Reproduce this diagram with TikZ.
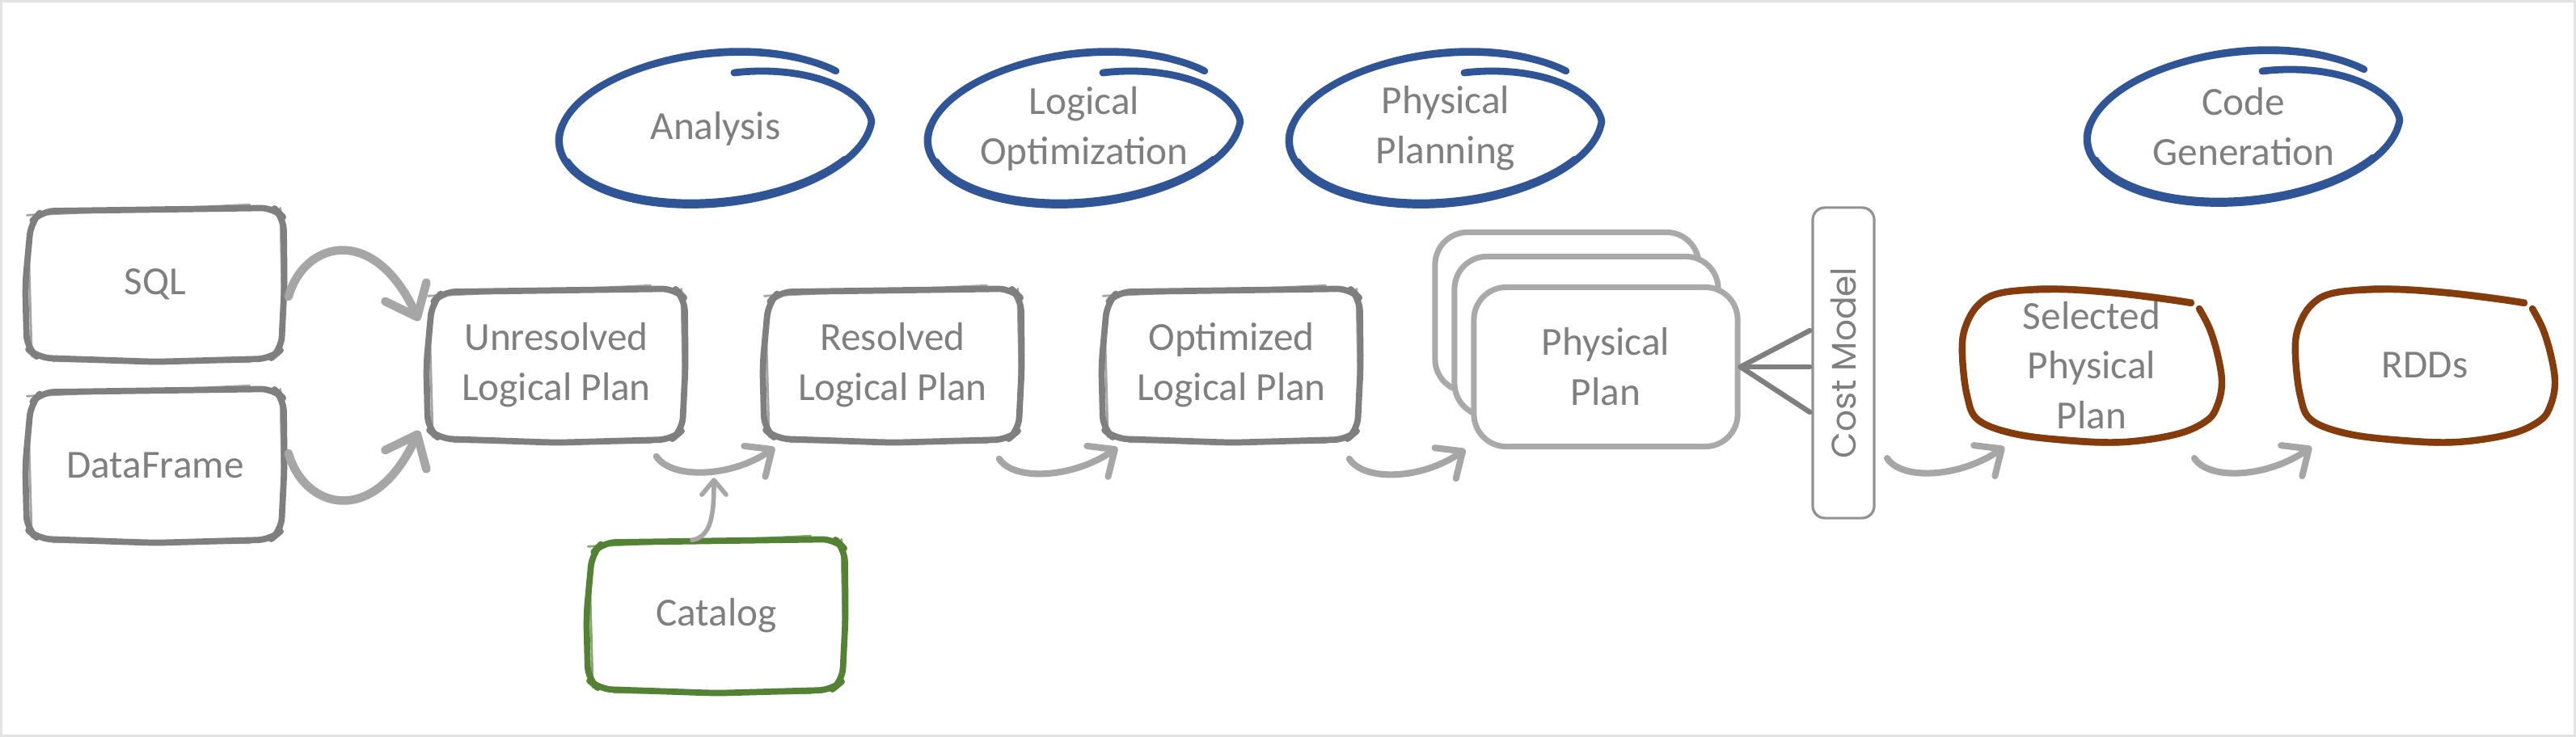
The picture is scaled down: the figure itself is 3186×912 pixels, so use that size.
\documentclass[tikz,border=0pt]{standalone}
\usepackage{fontspec}
\setmainfont{Carlito}
\newfontfamily\costfont{Poppins}
\usetikzlibrary{calc,arrows.meta}
\definecolor{txtgray}{HTML}{7F7F7F}
\definecolor{boxgray}{HTML}{7F7F7F}
\definecolor{arrgray}{HTML}{A6A6A6}
\definecolor{stackgray}{HTML}{A9A9A9}
\definecolor{blu}{HTML}{2F5597}
\definecolor{grn}{HTML}{548235}
\definecolor{brn}{HTML}{843C0C}
\definecolor{framegray}{HTML}{E3E3E3}

\newcommand{\sketchbox}[2]{%
 \draw[#2, line width=2.2pt, line join=round, line cap=round, rounded corners=0.16cm]
   ($(#1.north west)+(16,2)$) -- ($(#1.north east)+(-10,-2)$) -- ($(#1.north east)+(2,10)$) -- ($(#1.east)+(3,0)$) -- ($(#1.south east)+(-1,-12)$) -- ($(#1.south east)+(-14,-1)$) -- ($(#1.south)+(0,3)$) -- ($(#1.south west)+(12,-2)$) -- ($(#1.south west)+(-2,-14)$) -- ($(#1.west)+(-4,0)$) -- ($(#1.north west)+(3,16)$) -- cycle;
 \draw[#2, line width=0.8pt, opacity=0.7, line cap=round]
   ($(#1.north west)+(-2,7)$) -- ($(#1.north east)+(-40,-6)$)
   ($(#1.north east)+(-2,-2)$) -- ($(#1.south east)+(1,-40)$)
   ($(#1.south east)+(-40,3)$) -- ($(#1.south west)+(30,2)$)
   ($(#1.south west)+(4,-4)$) -- ($(#1.north west)+(0,40)$);
}
\newcommand{\blobshape}[2]{%
 \begin{scope}[shift={(#1.center)}]
 \draw[#2, line width=2.4pt, line cap=round, line join=round] plot[smooth, tension=0.6] coordinates {(133,-70) (146,-45) (156,-12) (161,21) (156,48) (143,68) (106,85) (40,95) (-27,93) (-94,85) (-140,68) (-154,38) (-160,-12) (-157,-45) (-140,-75) (-110,-90) (-44,-94) (23,-90) (90,-82) (123,-77)};
 \draw[#2, line width=0.8pt, opacity=0.7, line cap=round] plot[smooth, tension=0.6] coordinates {(137,-62) (152,-30) (160,10) (158,45) (140,72) (100,89) (30,98) (-40,95) (-110,84) (-146,62) (-158,25) (-163,-20)};
 \draw[#2, line width=0.8pt, opacity=0.7, line cap=round] plot[smooth, tension=0.6] coordinates {(-150,-60) (-128,-86) (-70,-97) (0,-95) (70,-88) (125,-80)};
 \end{scope}}
\tikzset{declare function={sp(\t)=1-0.27*max(0,\t)/84;}}
\newcommand{\spiral}[1]{%
 \begin{scope}[shift={(#1.center)}]
 \draw[blu, line width=2.5pt, line cap=round] plot[smooth, domain=84:-317, samples=110, variable=\t] ({193*sp(\t)*cos(\t) + 0.12*94*sp(\t)*sin(\t)}, {-94*sp(\t)*sin(\t) - 0.05*193*sp(\t)*cos(\t)});
 \draw[blu, line width=1.6pt, line cap=round] plot[smooth, domain=-30:-160, samples=40, variable=\t] ({190*cos(\t) + 0.12*90*sin(\t)}, {-90*sin(\t) - 0.05*190*cos(\t)});
 \draw[blu, line width=1.3pt, line cap=round] plot[smooth, domain=150:60, samples=30, variable=\t] ({190*cos(\t) + 0.12*97*sin(\t)}, {-97*sin(\t) - 0.05*190*cos(\t)});
 \draw[blu, line width=0.7pt, opacity=0.8] plot[smooth, domain=170:250, samples=30, variable=\t] ({197*cos(\t) + 0.12*92*sin(\t)}, {-92*sin(\t) - 0.05*197*cos(\t)});
 \end{scope}}

\tikzset{
 lbl/.style={text=txtgray, font=\fontsize{14}{17.6}\selectfont, align=center, inner sep=0pt},
 gbox/.style={lbl, minimum width=3.12cm, minimum height=1.84cm},
 stackbox/.style={lbl, draw=stackgray, fill=white, line width=2pt, rounded corners=0.4cm, minimum width=3.26cm, minimum height=1.97cm},
 costbox/.style={draw=boxgray!85, line width=0.9pt, rounded corners=0.15cm, minimum width=3.84cm, minimum height=0.76cm, inner sep=0pt, text=txtgray, font=\costfont\fontsize{12}{14}\selectfont},
 bigarr/.style={arrgray, line width=3pt, line cap=round, -{Straight Barb[round, length=0.34cm, width=0.56cm]}},
 smallarr/.style={arrgray, line width=2.3pt, line cap=round, -{Straight Barb[round, length=0.26cm, width=0.46cm]}},
 catarr/.style={arrgray, line width=1.6pt, line cap=round, -{Straight Barb[round, length=0.18cm, width=0.3cm]}},
 tiel/.style={boxgray, line width=1.8pt, line cap=round},
}

\begin{document}
\begin{tikzpicture}[x=0.01cm, y=-0.01cm]
\useasboundingbox (0,0) rectangle (3186,912);
\fill[white] (0,0) rectangle (3186,912);
\draw[framegray, line width=0.9pt] (1.5,1.5) rectangle (3184.5,910.5);

% stage ellipses
\node[lbl] (ana) at (885,159) {Analysis};
\node[lbl] (lopt) at (1341,159) {Logical\\Optimization};
\node[lbl] (pplan) at (1788,159) {Physical\\Planning};
\node[lbl] (cgen) at (2775,157) {Code\\Generation};
\spiral{ana}
\spiral{lopt}
\spiral{pplan}
\spiral{cgen}

% boxes
\node[gbox] (sql) at (192,352) {SQL};
\node[gbox] (df) at (192,576) {DataFrame};
\node[gbox] (unres) at (688,452) {Unresolved\\Logical Plan};
\node[gbox] (res) at (1104,452) {Resolved\\Logical Plan};
\node[gbox] (opt) at (1523,452) {Optimized\\Logical Plan};
\node[gbox] (cat) at (886,762) {Catalog};
\sketchbox{sql}{boxgray}
\sketchbox{df}{boxgray}
\sketchbox{unres}{boxgray}
\sketchbox{res}{boxgray}
\sketchbox{opt}{boxgray}
\sketchbox{cat}{grn}

% physical plans
\node[stackbox] (phys3) at (1938,386) {};
\node[stackbox] (phys2) at (1962,416) {};
\node[stackbox] (phys) at (1986,454) {Physical\\Plan};

% cost model
\node[costbox, rotate=90] (cost) at (2280,449) {Cost Model};
\draw[tiel] (phys.east) -- ($(cost.north)+(-2,-40)$);
\draw[tiel] (phys.east) -- ($(cost.north)+(-2,5)$);
\draw[tiel] (phys.east) -- ($(cost.north)+(-2,61)$);

% selected & RDDs
\node[gbox] (sel) at (2587,452) {Selected\\Physical\\Plan};
\node[gbox] (rdd) at (2999,452) {RDDs};
\blobshape{sel}{brn}
\blobshape{rdd}{brn}

% arrows
\draw[bigarr] ($(sql.east)+(8,15)$) .. controls +(20,-70) and +(-55,-120) .. ($(unres.west)+(-13,-55)$);
\draw[bigarr] ($(df.east)+(8,-15)$) .. controls +(20,70) and +(-55,120) .. ($(unres.west)+(-13,81)$);
\draw[smallarr] ($(unres.south east)+(-33,20)$) .. controls +(18,28) and +(-55,38) .. ($(res.south west)+(11,9)$);
\draw[smallarr] ($(res.south east)+(-25,23)$) .. controls +(18,28) and +(-55,38) .. ($(opt.south west)+(16,9)$);
\draw[smallarr] ($(opt.south east)+(-11,23)$) .. controls +(18,28) and +(-55,38) .. ($(phys.south west)+(-7,0)$);
\draw[smallarr] ($(cost.center)+(54,118)$) .. controls +(18,28) and +(-55,38) .. ($(sel.center)+(-108,101)$);
\draw[smallarr] ($(sel.center)+(127,115)$) .. controls +(18,28) and +(-55,38) .. ($(rdd.center)+(-140,101)$);
\draw[catarr] ($(cat.north)+(-30,-1)$) .. controls +(24,-4) and +(0,45) .. ($(cat.north)+(-3,-78)$);
\end{tikzpicture}
\end{document}
